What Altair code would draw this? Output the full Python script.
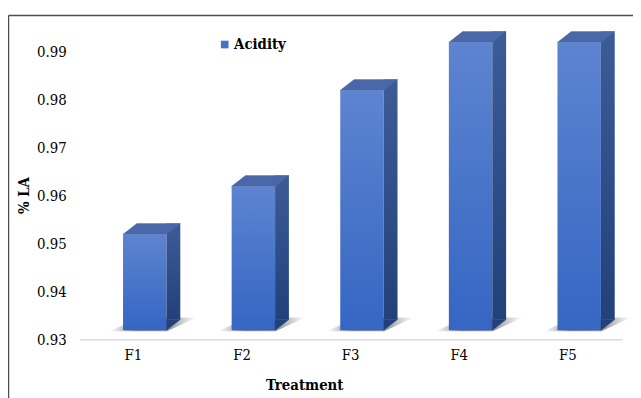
import altair as alt
import pandas as pd

treatments = ["F1", "F2", "F3", "F4", "F5"]
acidity = [0.95, 0.96, 0.98, 0.99, 0.99]
series = ["Acidity"] * 5
y_ticks = [0.93, 0.94, 0.95, 0.96, 0.97, 0.98, 0.99]

df = pd.DataFrame({"Treatment": treatments, "LA": acidity, "Series": series})

FONT = "DejaVu Serif Condensed"

x_enc = alt.X(
    "Treatment:N",
    sort=treatments,
    scale=alt.Scale(paddingInner=0, paddingOuter=0),
    axis=alt.Axis(
        title="Treatment", labelAngle=0, ticks=False, domainColor="#D9D9E8",
        domainWidth=1.5, labelPadding=9, labelFont=FONT, labelFontSize=15,
        labelColor="#000000", titleFont=FONT, titleFontSize=15,
        titleFontWeight="bold", titleColor="#000000", titleX=228, titleY=51,
        titleBaseline="alphabetic", titleAlign="center",
    ),
)
y_scale = alt.Scale(domain=[0.93, 0.995], nice=False, zero=False)
y_enc = alt.Y(
    "LA:Q",
    scale=y_scale,
    axis=alt.Axis(
        title="% LA", values=y_ticks, format=".2f", grid=False, ticks=False,
        domain=False, labelPadding=13, labelFont=FONT, labelFontSize=15,
        labelColor="#000000", titleFont=FONT, titleFontSize=15,
        titleFontWeight="bold", titleColor="#000000", titleAngle=270,
        titleX=-56, titleY=170, titleAlign="center", titleBaseline="middle",
    ),
)

base = alt.Chart(df).encode(x=x_enc)

front_grad = alt.Gradient(
    gradient="linear", x1=0, x2=0, y1=0, y2=1,
    stops=[alt.GradientStop(color="#5D84D0", offset=0),
           alt.GradientStop(color="#3566C3", offset=1)],
)
side_grad = alt.Gradient(
    gradient="linear", x1=0, x2=0, y1=0, y2=1,
    stops=[alt.GradientStop(color="#3D5B96", offset=0),
           alt.GradientStop(color="#22407A", offset=1)],
)
shadow_grad = alt.Gradient(
    gradient="linear", x1=0, x2=1, y1=0, y2=0,
    stops=[alt.GradientStop(color="rgba(110,110,110,0)", offset=0),
           alt.GradientStop(color="rgba(90,90,90,0.7)", offset=0.3),
           alt.GradientStop(color="rgba(90,90,90,0.6)", offset=0.7),
           alt.GradientStop(color="rgba(120,120,120,0)", offset=1)],
)

shadow = base.mark_point(
    shape="M -24 -8 L 34 -8 L 64 -22 L 6 -22 Z",
    size=4, filled=True, color=shadow_grad, opacity=1, strokeWidth=0,
).encode(y=alt.datum(0.93, scale=y_scale))

front = base.mark_bar(
    width=44, xOffset=11.5, yOffset=-9, y2Offset=-9, color=front_grad,
).encode(y=y_enc, y2=alt.datum(0.93))

side = base.mark_bar(
    width=14, xOffset=40.5, yOffset=-20, y2Offset=-20, color=side_grad,
).encode(y="LA:Q", y2=alt.datum(0.93))

side_bottom = base.mark_point(
    shape="M 33.5 -9 L 47.5 -20 L 33.5 -20 Z",
    size=4, filled=True, fill="#22407A", stroke="#22407A", strokeWidth=0.4,
    opacity=1,
).encode(y=alt.datum(0.93, scale=y_scale))

top_face = base.mark_point(
    shape="M -10.5 -9 L 33.5 -9 L 47.5 -20 L 3.5 -20 Z",
    size=4, filled=True, fill="#4A68A9", stroke="#4A68A9", strokeWidth=0.4,
    opacity=1,
).encode(y="LA:Q")

legend_layer = base.mark_square(opacity=0, size=1).encode(
    y="LA:Q",
    color=alt.Color(
        "Series:N",
        scale=alt.Scale(domain=["Acidity"], range=["#4472C4"]),
        legend=alt.Legend(
            orient="none", legendX=140, legendY=10, title=None, padding=0,
            symbolType="square", symbolSize=60, symbolOpacity=1,
            symbolStrokeWidth=0, symbolFillColor="#4472C4",
            labelFont=FONT, labelFontSize=15, labelFontWeight="bold",
            labelColor="#000000", labelOffset=2,
        ),
    ),
)

border_src = alt.Chart(alt.Data(values=[{"k": 1}]))
border_left = border_src.mark_rule(color="#4D4D4D", strokeWidth=1.5).encode(
    x=alt.value(-71.5), y=alt.value(-12), y2=alt.value(400)
)
border_top = border_src.mark_rule(color="#4D4D4D", strokeWidth=1.5).encode(
    x=alt.value(-71.5), x2=alt.value(700), y=alt.value(-12)
)

chart = alt.layer(
    shadow, front, side, side_bottom, top_face, legend_layer,
    border_left, border_top,
).properties(
    width=550, height=316,
    autosize=alt.AutoSizeParams(type="none"),
    padding={"left": 72, "top": 17, "right": 11, "bottom": 57},
    background="#FFFFFF",
).configure(font=FONT).configure_view(stroke=None)

chart.save("out.html", embed_options={"renderer": "svg", "actions": False})
